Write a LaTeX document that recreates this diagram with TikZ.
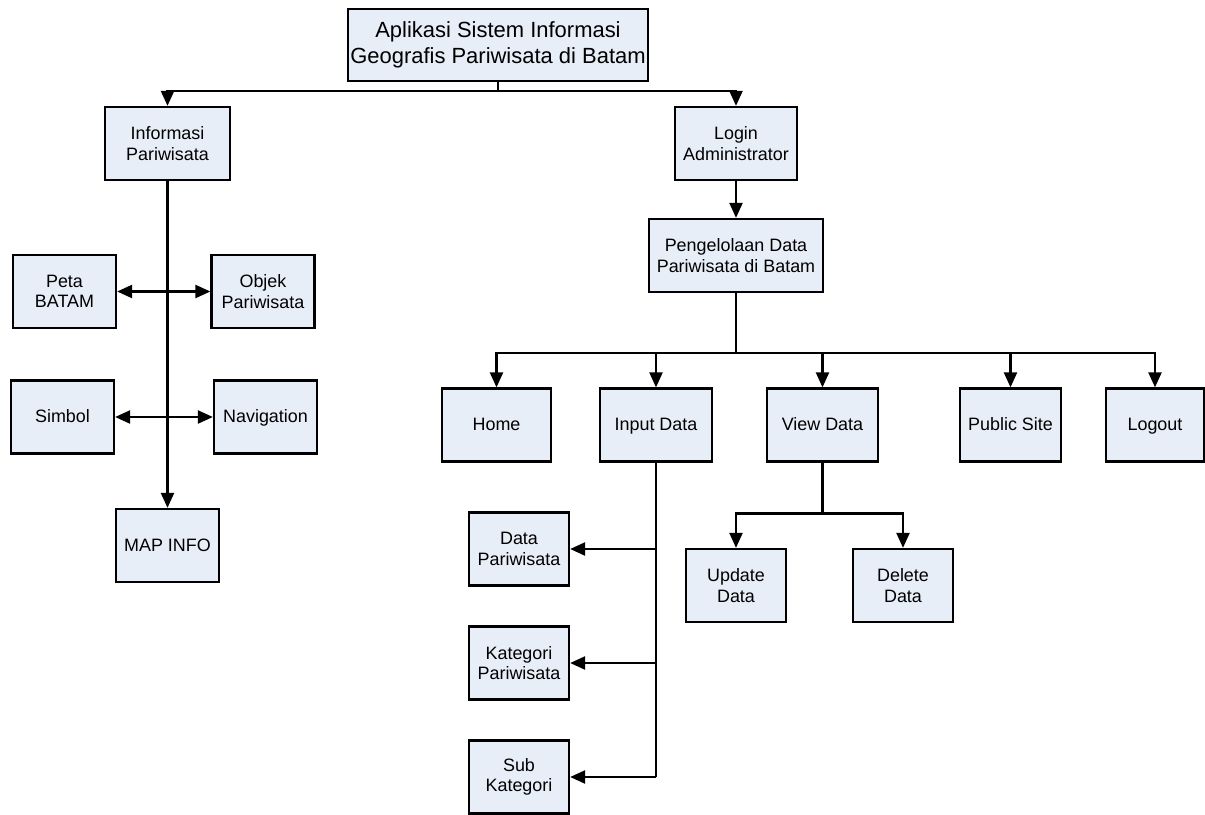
\documentclass[tikz,border=0pt]{standalone}
\usepackage{fontspec}
\setmainfont{Liberation Sans}
\usetikzlibrary{arrows.meta}
\definecolor{boxfill}{RGB}{232,238,247}

\begin{document}
\begin{tikzpicture}[
  x=0.02cm, y=-0.02cm,
  every path/.append style={line width=1.3pt},
  font=\fontsize{10.2}{11.6}\selectfont,
  box/.style={draw, fill=boxfill, align=center, inner sep=0pt,
    minimum width=2.06cm, minimum height=1.46cm},
  single/.style={box, text height=1.6ex, text depth=0.4ex},
  arr/.style={-{Triangle[length=0.3cm,width=0.26cm]}},
  arr2/.style={{Triangle[length=0.3cm,width=0.26cm]}-{Triangle[length=0.3cm,width=0.26cm]}}
  ]
  \useasboundingbox (0,0) rectangle (1205,815);

  % top
  \node [box, minimum width=6cm, minimum height=1.44cm,
    font=\fontsize{12.5}{15}\selectfont] (top) at (498,45)
    {Aplikasi Sistem Informasi\\Geografis Pariwisata di Batam};

  % left branch
  \node [box, minimum width=2.5cm] (info) at (167.5,143.5) {Informasi\\Pariwisata};
  \node [box] (peta) at (64.5,291.5) {Peta\\BATAM};
  \node [box] (objek) at (263,291.5) {Objek\\Pariwisata};
  \node [single] (simbol) at (62.5,417) {Simbol};
  \node [single] (navig) at (265.5,417) {Navigation};
  \node [single] (mapinfo) at (167.5,545.5) {MAP INFO};

  % right branch
  \node [box, minimum width=2.44cm] (login) at (736,143.5) {Login\\Administrator};
  \node [box, minimum width=3.48cm] (kelola) at (736,255.5) {Pengelolaan Data\\Pariwisata di Batam};

  \node [single, minimum width=2.18cm] (home) at (496.5,425) {Home};
  \node [single, minimum width=2.24cm] (input) at (656,425) {Input Data};
  \node [single, minimum width=2.22cm] (view) at (822.5,425) {View Data};
  \node [single, minimum width=2.02cm] (public) at (1010.5,425) {Public Site};
  \node [single, minimum width=1.96cm] (logout) at (1155,425) {Logout};

  \node [box, minimum width=2cm] (data) at (519,549) {Data\\Pariwisata};
  \node [box, minimum width=2cm] (kategori) at (519,663) {Kategori\\Pariwisata};
  \node [box, minimum width=2cm] (sub) at (519,777) {Sub\\Kategori};

  \node [box, minimum width=2cm] (update) at (736,585.5) {Update\\Data};
  \node [box, minimum width=2cm] (delete) at (903,585.5) {Delete\\Data};

  % connectors
  \draw [arr] (top.south) -- ++(0,9) -| (info.north);
  \draw [arr] (top.south) -- ++(0,9) -| (login.north);

  \draw [arr] (info.south) -- (mapinfo.north);
  \draw [arr2] (peta.east) -- (objek.west);
  \draw [arr2] (simbol.east) -- (navig.west);

  \draw [arr] (login.south) -- (kelola.north);
  \foreach \n in {home,input,view,public,logout} {
    \draw [arr] (kelola.south) -- ++(0,60) -| (\n.north);
  }

  \draw (input.south) -- (input.south |- sub.east);
  \foreach \n in {data,kategori,sub} {
    \draw [arr] (input.south |- \n.east) -- (\n.east);
  }

  \draw [arr] (view.south) -- ++(0,51) -| (update.north);
  \draw [arr] (view.south) -- ++(0,51) -| (delete.north);
\end{tikzpicture}
\end{document}
